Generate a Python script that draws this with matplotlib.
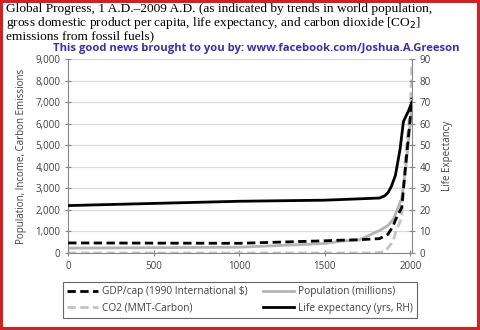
import matplotlib
matplotlib.use("Agg")
import matplotlib.pyplot as plt
from matplotlib.lines import Line2D

# ---- data ----
gdp_years = [1, 1000, 1500, 1600, 1700, 1820, 1870, 1900, 1913, 1950, 1973, 2003, 2009]
gdp_vals = [467, 450, 566, 596, 615, 666, 873, 1262, 1526, 2111, 4083, 6516, 7200]

pop_years = [1, 1000, 1500, 1600, 1700, 1820, 1870, 1900, 1913, 1950, 1973, 2003, 2009]
pop_vals = [226, 267, 438, 556, 603, 1042, 1276, 1563, 1793, 2526, 3916, 6279, 6800]

co2_years = [1, 1750, 1800, 1850, 1900, 1913, 1950, 1973, 2000, 2009]
co2_vals = [0, 0, 8, 54, 534, 943, 1630, 4600, 6700, 8700]

le_years = [1, 1000, 1500, 1820, 1850, 1870, 1890, 1913, 1940, 1960, 1990, 2009]
le_vals = [22, 24, 24.5, 25.5, 26.5, 28, 31, 36, 48, 61, 66, 70]

left_ticks = list(range(0, 9001, 1000))
right_ticks = list(range(0, 91, 10))
x_ticks = [0, 500, 1000, 1500, 2000]

title = ("Global Progress, 1 A.D.\u20132009 A.D. (as indicated by trends in world population,\n"
         "gross domestic product per capita, life expectancy, and carbon dioxide [CO$_2$]\n"
         "emissions from fossil fuels)")
subtitle = "This good news brought to you by: www.facebook.com/Joshua.A.Greeson"

sans = ["Open Sans", "DejaVu Sans"]
tc = "#404040"

fig = plt.figure(figsize=(4.8, 3.3), dpi=100)
fig.patch.set_facecolor("white")
fig.patch.set_edgecolor("#d42020")
fig.patch.set_linewidth(3)

ax = fig.add_axes([68/480, 1-253/330, (412-68)/480, (253-59)/330])
ax2 = ax.twinx()

ax.plot(gdp_years, gdp_vals, color="black", lw=2, ls=(0, (3, 1.6)), zorder=3)
ax.plot(pop_years, pop_vals, color="#b4b4b4", lw=2, zorder=2)
ax.plot(co2_years, co2_vals, color="#c4c4c4", lw=2, ls=(0, (3, 1.6)), zorder=2)
ax2.plot(le_years, le_vals, color="black", lw=2, zorder=3)

ax.set_xlim(0, 2010)
ax.set_ylim(0, 9000)
ax2.set_ylim(0, 90)
ax.set_xticks(x_ticks)
ax.set_yticks(left_ticks)
ax2.set_yticks(right_ticks)
ax.set_yticklabels([f"{v:,}" for v in left_ticks])
ax.grid(axis="y", color="#d9d9d9", lw=0.9)
ax.set_axisbelow(True)

for a in (ax, ax2):
    for s in a.spines.values():
        s.set_visible(False)
ax.spines["left"].set_visible(True)
ax.spines["left"].set_color("#868686")
ax.spines["bottom"].set_visible(True)
ax.spines["bottom"].set_color("#868686")
ax2.spines["right"].set_visible(True)
ax2.spines["right"].set_color("#868686")

ax.tick_params(axis="both", colors="#868686", labelcolor=tc, labelsize=7, direction="inout", length=4, width=0.8)
ax2.tick_params(axis="y", colors="#868686", labelcolor=tc, labelsize=7, direction="inout", length=4, width=0.8)
for lab in ax.get_xticklabels() + ax.get_yticklabels() + ax2.get_yticklabels():
    lab.set_family(sans)

ax.set_ylabel("Population, Income, Carbon Emissions", fontsize=7, color=tc, family=sans, labelpad=6)
ax2.set_ylabel("Life Expectancy", fontsize=7, color=tc, family=sans, labelpad=8)

fig.text(6/480, 1-3/330, title, ha="left", va="top", fontsize=9.6,
         family=["Liberation Serif", "DejaVu Serif"], color="black", linespacing=0.98)
fig.text(256/480, 1-48/330, subtitle, ha="center", va="center", fontsize=8.1,
         fontweight="bold", family=sans, color="#3a2bc8")

handles = [
    Line2D([], [], color="black", lw=2, ls=(0, (3, 1.6))),
    Line2D([], [], color="#c4c4c4", lw=2, ls=(0, (3, 1.6))),
    Line2D([], [], color="#b4b4b4", lw=2),
    Line2D([], [], color="black", lw=2),
]
labels = ["GDP/cap (1990 International $)", "CO2 (MMT-Carbon)",
          "Population (millions)", "Life expectancy (yrs, RH)"]
leg = fig.legend(handles, labels, ncol=2, loc="center",
                 bbox_to_anchor=(240/480, 1-300/330), frameon=True,
                 prop={"family": sans, "size": 7.3}, handlelength=3.0,
                 handletextpad=0.4, columnspacing=1.6, labelspacing=0.5,
                 borderpad=0.4, fancybox=False, edgecolor="#404040")
leg.get_frame().set_linewidth(0.8)
for t in leg.get_texts():
    t.set_color(tc)

fig.savefig("out.png", dpi=100, facecolor=fig.get_facecolor(), edgecolor=fig.get_edgecolor())
